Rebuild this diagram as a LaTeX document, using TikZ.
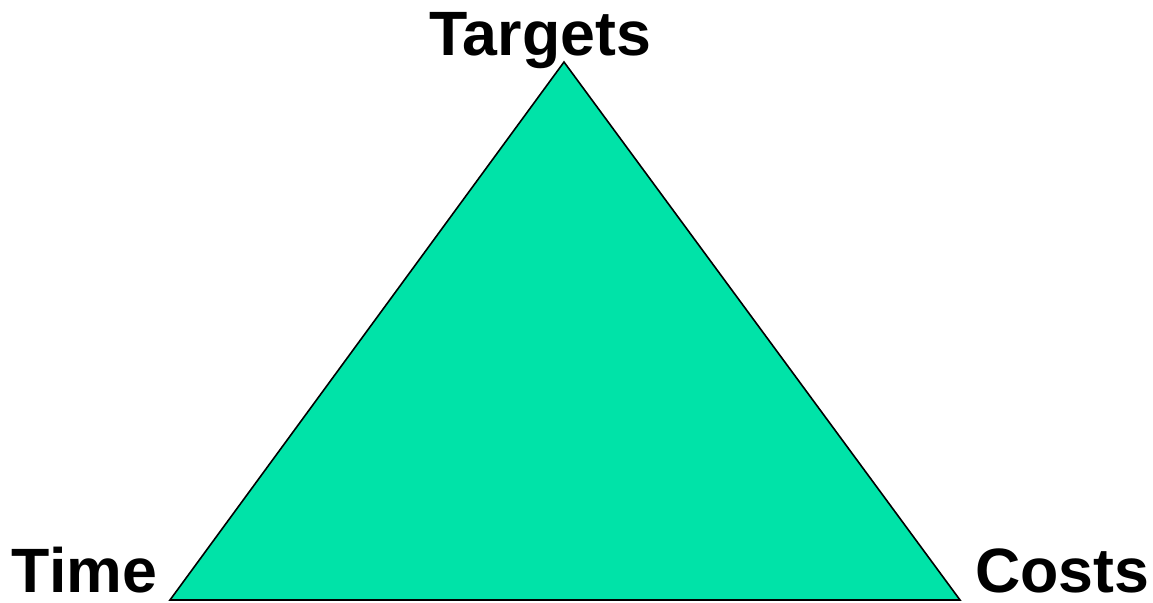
\documentclass[tikz,border=0pt]{standalone}
\usepackage{fontspec}
\setmainfont{Liberation Sans}
\definecolor{trifill}{RGB}{0,227,168}
\begin{document}
\begin{tikzpicture}[x=0.75pt,y=-0.75pt,
  lbl/.style={font=\fontsize{47}{56}\selectfont\bfseries, inner sep=0pt, outer sep=0pt}]
\useasboundingbox (0,0) rectangle (1153,603);
\coordinate (top) at (564,62);
\coordinate (bl) at (170,600);
\coordinate (br) at (960,600);
\draw[fill=trifill, line width=1.2pt, line join=miter] (top) -- (bl) -- (br) -- cycle;
\node[lbl, anchor=base] (targets) at (540,55) {Targets};
\node[lbl, anchor=base west] (time) at (12,592) {Time};
\node[lbl, anchor=base west] (costs) at (975,592) {Costs};
\end{tikzpicture}
\end{document}
